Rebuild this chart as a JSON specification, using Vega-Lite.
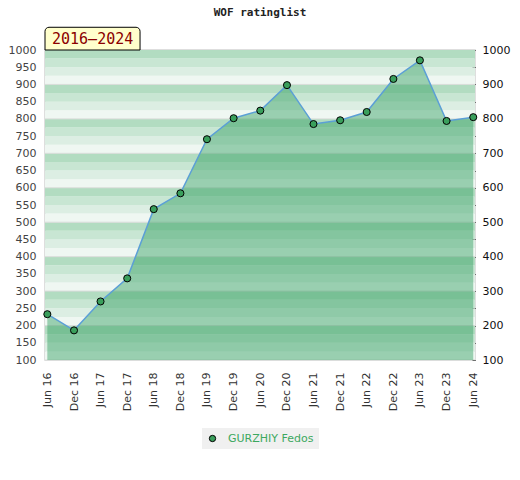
{
  "$schema": "https://vega.github.io/schema/vega-lite/v6.json",
  "width": 430,
  "height": 310,
  "autosize": "none",
  "padding": {"left": 45, "top": 50, "right": 45, "bottom": 120},
  "title": {
    "text": "WOF ratinglist",
    "font": "DejaVu Sans Mono",
    "fontSize": 11,
    "fontWeight": "bold",
    "color": "#222222",
    "anchor": "middle",
    "offset": 9
  },
  "datasets": {
    "bands": [
      {"lo": 100, "hi": 125, "shade": 4}, {"lo": 125, "hi": 150, "shade": 3}, {"lo": 150, "hi": 175, "shade": 2}, {"lo": 175, "hi": 200, "shade": 1},
      {"lo": 200, "hi": 225, "shade": 4}, {"lo": 225, "hi": 250, "shade": 3}, {"lo": 250, "hi": 275, "shade": 2}, {"lo": 275, "hi": 300, "shade": 1},
      {"lo": 300, "hi": 325, "shade": 4}, {"lo": 325, "hi": 350, "shade": 3}, {"lo": 350, "hi": 375, "shade": 2}, {"lo": 375, "hi": 400, "shade": 1},
      {"lo": 400, "hi": 425, "shade": 4}, {"lo": 425, "hi": 450, "shade": 3}, {"lo": 450, "hi": 475, "shade": 2}, {"lo": 475, "hi": 500, "shade": 1},
      {"lo": 500, "hi": 525, "shade": 4}, {"lo": 525, "hi": 550, "shade": 3}, {"lo": 550, "hi": 575, "shade": 2}, {"lo": 575, "hi": 600, "shade": 1},
      {"lo": 600, "hi": 625, "shade": 4}, {"lo": 625, "hi": 650, "shade": 3}, {"lo": 650, "hi": 675, "shade": 2}, {"lo": 675, "hi": 700, "shade": 1},
      {"lo": 700, "hi": 725, "shade": 4}, {"lo": 725, "hi": 750, "shade": 3}, {"lo": 750, "hi": 775, "shade": 2}, {"lo": 775, "hi": 800, "shade": 1},
      {"lo": 800, "hi": 825, "shade": 4}, {"lo": 825, "hi": 850, "shade": 3}, {"lo": 850, "hi": 875, "shade": 2}, {"lo": 875, "hi": 900, "shade": 1},
      {"lo": 900, "hi": 925, "shade": 4}, {"lo": 925, "hi": 950, "shade": 3}, {"lo": 950, "hi": 975, "shade": 2}, {"lo": 975, "hi": 1000, "shade": 1}
    ],
    "rating": [
      {"date": "2016-06-01", "player": "GURZHIY Fedos", "rating": 233},
      {"date": "2016-12-01", "player": "GURZHIY Fedos", "rating": 186},
      {"date": "2017-06-01", "player": "GURZHIY Fedos", "rating": 270},
      {"date": "2017-12-01", "player": "GURZHIY Fedos", "rating": 337},
      {"date": "2018-06-01", "player": "GURZHIY Fedos", "rating": 538},
      {"date": "2018-12-01", "player": "GURZHIY Fedos", "rating": 584},
      {"date": "2019-06-01", "player": "GURZHIY Fedos", "rating": 741},
      {"date": "2019-12-01", "player": "GURZHIY Fedos", "rating": 802},
      {"date": "2020-06-01", "player": "GURZHIY Fedos", "rating": 824},
      {"date": "2020-12-01", "player": "GURZHIY Fedos", "rating": 898},
      {"date": "2021-06-01", "player": "GURZHIY Fedos", "rating": 785},
      {"date": "2021-12-01", "player": "GURZHIY Fedos", "rating": 796},
      {"date": "2022-06-01", "player": "GURZHIY Fedos", "rating": 820},
      {"date": "2022-12-01", "player": "GURZHIY Fedos", "rating": 916},
      {"date": "2023-06-01", "player": "GURZHIY Fedos", "rating": 970},
      {"date": "2023-12-01", "player": "GURZHIY Fedos", "rating": 794},
      {"date": "2024-06-01", "player": "GURZHIY Fedos", "rating": 805}
    ]
  },
  "layer": [
    {
      "data": {"name": "bands"},
      "mark": {"type": "rect"},
      "encoding": {
        "y": {
          "field": "lo",
          "type": "quantitative",
          "scale": {"domain": [100, 1000], "nice": false, "zero": false},
          "axis": {
            "orient": "left",
            "title": null,
            "values": [100, 150, 200, 250, 300, 350, 400, 450, 500, 550, 600, 650, 700, 750, 800, 850, 900, 950, 1000],
            "format": "d",
            "ticks": false,
            "domain": false,
            "grid": false,
            "labelPadding": 9,
            "labelColor": "#444444"
          }
        },
        "y2": {"field": "hi"},
        "color": {
          "field": "shade",
          "type": "ordinal",
          "scale": {"domain": [1, 2, 3, 4], "range": ["#b2dcc1", "#c8e6d3", "#dceee3", "#eff7f2"]},
          "legend": null
        }
      }
    },
    {
      "data": {"name": "bands"},
      "transform": [{"filter": "datum.shade == 4"}],
      "mark": {"type": "rule", "color": "#d8dcd9", "strokeWidth": 1},
      "encoding": {
        "y": {"field": "lo", "type": "quantitative", "axis": null}
      }
    },
    {
      "data": {"name": "rating"},
      "encoding": {
        "x": {
          "field": "date",
          "type": "temporal",
          "scale": {
            "type": "utc",
            "domain": [
              {"year": 2016, "month": 5, "date": 16, "utc": true},
              {"year": 2024, "month": 6, "date": 13, "utc": true}
            ]
          },
          "axis": {
            "title": null,
            "format": "%b %y",
            "labelOverlap": false,
            "values": [
              {"year": 2016, "month": 6, "date": 1, "utc": true}, {"year": 2016, "month": 12, "date": 1, "utc": true},
              {"year": 2017, "month": 6, "date": 1, "utc": true}, {"year": 2017, "month": 12, "date": 1, "utc": true},
              {"year": 2018, "month": 6, "date": 1, "utc": true}, {"year": 2018, "month": 12, "date": 1, "utc": true},
              {"year": 2019, "month": 6, "date": 1, "utc": true}, {"year": 2019, "month": 12, "date": 1, "utc": true},
              {"year": 2020, "month": 6, "date": 1, "utc": true}, {"year": 2020, "month": 12, "date": 1, "utc": true},
              {"year": 2021, "month": 6, "date": 1, "utc": true}, {"year": 2021, "month": 12, "date": 1, "utc": true},
              {"year": 2022, "month": 6, "date": 1, "utc": true}, {"year": 2022, "month": 12, "date": 1, "utc": true},
              {"year": 2023, "month": 6, "date": 1, "utc": true}, {"year": 2023, "month": 12, "date": 1, "utc": true},
              {"year": 2024, "month": 6, "date": 1, "utc": true}
            ]
          }
        },
        "y": {
          "field": "rating",
          "type": "quantitative",
          "axis": {
            "orient": "right",
            "title": null,
            "values": [100, 150, 200, 250, 300, 350, 400, 450, 500, 550, 600, 650, 700, 750, 800, 850, 900, 950, 1000],
            "labelExpr": "datum.value % 100 == 0 ? datum.value : ''",
            "offset": -3,
            "tickSize": 3,
            "tickColor": "#000000",
            "domain": false,
            "grid": false,
            "labelPadding": 7,
            "labelColor": "#111111"
          }
        }
      },
      "layer": [
        {
          "mark": {"type": "area", "color": "#35a062", "fillOpacity": 0.46},
          "encoding": {"y2": {"datum": 100}}
        },
        {
          "transform": [{"filter": "datum.date == '2016-06-01' || datum.date == '2024-06-01'"}],
          "mark": {"type": "rule", "color": "#3a9f5c", "strokeWidth": 1},
          "encoding": {"y2": {"datum": 100}}
        },
        {
          "mark": {"type": "line", "color": "#5b9fd6", "strokeWidth": 1.5}
        },
        {
          "mark": {"type": "point", "filled": true, "size": 50, "stroke": "#000000", "strokeWidth": 1, "opacity": 1},
          "encoding": {
            "fill": {
              "field": "player",
              "type": "nominal",
              "scale": {"range": ["#3a9f5c"]},
              "legend": {
                "title": null,
                "orient": "bottom",
                "symbolType": "circle",
                "symbolSize": 40,
                "symbolStrokeColor": "#000000",
                "symbolStrokeWidth": 1,
                "labelColor": "#3da85f",
                "labelFontSize": 11,
                "labelOffset": 10,
                "fillColor": "#f0f0f0",
                "padding": 5,
                "offset": 17
              }
            }
          }
        }
      ]
    },
    {
      "data": {"values": [{"label": "2016–2024"}]},
      "encoding": {
        "x": {
          "datum": {"year": 2016, "month": 5, "date": 16, "utc": true},
          "type": "temporal",
          "axis": {
            "title": null,
            "format": "%b %y",
            "labelOverlap": false,
            "values": [
              {"year": 2016, "month": 6, "date": 1, "utc": true}, {"year": 2016, "month": 12, "date": 1, "utc": true},
              {"year": 2017, "month": 6, "date": 1, "utc": true}, {"year": 2017, "month": 12, "date": 1, "utc": true},
              {"year": 2018, "month": 6, "date": 1, "utc": true}, {"year": 2018, "month": 12, "date": 1, "utc": true},
              {"year": 2019, "month": 6, "date": 1, "utc": true}, {"year": 2019, "month": 12, "date": 1, "utc": true},
              {"year": 2020, "month": 6, "date": 1, "utc": true}, {"year": 2020, "month": 12, "date": 1, "utc": true},
              {"year": 2021, "month": 6, "date": 1, "utc": true}, {"year": 2021, "month": 12, "date": 1, "utc": true},
              {"year": 2022, "month": 6, "date": 1, "utc": true}, {"year": 2022, "month": 12, "date": 1, "utc": true},
              {"year": 2023, "month": 6, "date": 1, "utc": true}, {"year": 2023, "month": 12, "date": 1, "utc": true},
              {"year": 2024, "month": 6, "date": 1, "utc": true}
            ]
          }
        }
      },
      "layer": [
        {
          "mark": {"type": "rect", "fill": "#ffffcc", "stroke": "#000000", "strokeWidth": 1, "cornerRadiusTopLeft": 4, "cornerRadiusTopRight": 4},
          "encoding": {
            "x2": {"datum": {"year": 2018, "month": 2, "date": 27, "utc": true}},
            "y": {"datum": 1000, "type": "quantitative", "axis": null},
            "y2": {"datum": 1066}
          }
        },
        {
          "mark": {"type": "text", "align": "left", "baseline": "middle", "dx": 7, "font": "DejaVu Sans Mono", "fontSize": 15, "color": "#8b0000"},
          "encoding": {
            "y": {"datum": 1031, "type": "quantitative", "axis": null},
            "text": {"field": "label"}
          }
        }
      ]
    }
  ],
  "resolve": {"axis": {"y": "independent"}},
  "config": {
    "font": "DejaVu Sans",
    "view": {"stroke": "#d4d4d4", "strokeWidth": 1.5},
    "axis": {"labelFont": "DejaVu Sans", "labelFontSize": 11},
    "axisX": {
      "labelAngle": 270,
      "labelAlign": "right",
      "labelBaseline": "middle",
      "labelPadding": 12,
      "labelColor": "#333333",
      "labelOverlap": false,
      "ticks": false,
      "domain": false,
      "grid": false
    },
    "legend": {"labelFont": "DejaVu Sans", "layout": {"bottom": {"anchor": "middle"}}}
  }
}
